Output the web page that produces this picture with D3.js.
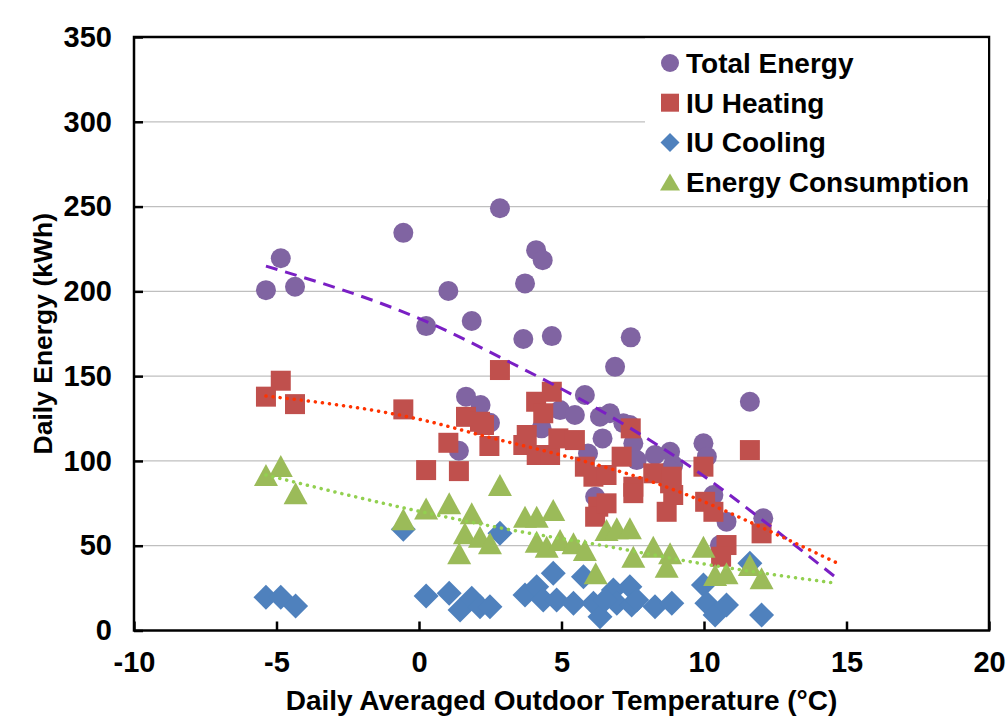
<!DOCTYPE html>
<html>
<head>
<meta charset="utf-8">
<script src="https://cdn.jsdelivr.net/npm/d3@7"></script>
<style>
  html, body { margin: 0; padding: 0; background: #fff; }
  svg text { font-family: "Liberation Sans", Arial, sans-serif; font-weight: bold; fill: #000; }
</style>
</head>
<body>
<svg id="chart" width="1008" height="725"></svg>
<script>
// ---------------- data ----------------
const xTicks = [-10, -5, 0, 5, 10, 15, 20];
const yTicks = [0, 50, 100, 150, 200, 250, 300, 350];
const seriesNames = ["Total Energy", "IU Heating", "IU Cooling", "Energy Consumption"];

const totalEnergy = [
  [-5.37,200.7],[-4.85,219.5],[-4.35,202.7],[-0.55,234.5],[0.25,179.5],[1.03,200.2],[1.85,182.5],
  [2.84,249],[4.11,224.3],[4.34,218.4],[3.72,204.7],[3.66,171.9],[4.66,173.6],[7.43,172.9],[6.88,155.5],
  [1.65,137.9],[2.16,133],[2.49,122.5],[1.40,106],[5.82,138.9],[4.95,130],[5.47,127.1],[4.30,119.2],
  [6.35,126.1],[6.70,128.1],[6.44,113.3],[7.40,121.2],[7.52,110.4],[7.64,100.5],[8.28,103.5],[8.81,105.4],
  [8.92,97.6],[6.18,78.9],[5.93,104.4],[11.61,134.9],[9.98,110.4],[10.1,102.5],[8.81,94.6],[10.33,79.9],
  [10.79,64.2],[12.08,66.2],[10.56,50.4],[7.17,122.2]
];
const iuHeating = [
  [-4.85,147.3],[-5.37,137.9],[-4.35,133.5],[-0.55,130.4],[0.25,94.6],[2.84,153.6],[1.03,110.7],[1.40,94],
  [1.65,126],[2.14,123.1],[2.28,121.2],[2.47,108.8],[4.11,134.9],[4.66,140.8],[4.36,128.1],[3.78,115.3],
  [3.66,109.4],[4.13,103.5],[4.6,103.5],[4.89,113.3],[5.47,112.3],[5.82,96.6],[6.12,90.7],[6.58,91.7],
  [6.29,73],[6.18,67.1],[6.58,75],[7.11,102.5],[7.43,119.2],[7.52,84.8],[7.52,81],[8.22,92.7],[8.69,70],
  [8.81,86.8],[8.87,90.7],[8.92,79.9],[9.98,96.6],[11.61,106.4],[10.04,75.9],[10.33,70],[10.79,50.4],
  [10.6,43.5],[12.02,57.3]
];
const iuCooling = [
  [-5.37,19.6],[-4.85,19.6],[-4.33,14.4],[-0.55,59.7],[0.25,20.3],[1.06,21.9],[1.44,12.1],[1.85,19],
  [2.14,14],[2.49,14],[2.84,57.3],[3.72,20.9],[4.13,25.8],[4.36,18],[4.71,33.7],[4.83,18],[5.42,16],
  [5.77,31.7],[6.12,16],[6.35,8.1],[6.82,23.9],[6.94,16],[6.53,18],[7.40,25.8],[7.46,15],[7.64,18],
  [8.28,14],[8.87,16],[9.98,26.8],[10.1,16],[10.39,9.1],[10.79,15],[11.61,39.6],[12.02,9.1]
];
const energyConsumption = [
  [-5.37,91.7],[-4.85,97],[-4.33,80.9],[-0.55,65.6],[0.25,72],[1.06,75],[1.85,69.1],[2.84,85.8],
  [1.61,57.3],[1.41,45.5],[2.14,55.3],[2.49,51.4],[3.72,67.1],[4.13,67.1],[4.71,71.1],[4.13,52.4],
  [4.48,49.4],[4.95,53.4],[5.42,51.4],[5.82,47.5],[6.2,33.7],[6.58,59.3],[6.94,60.3],[7.40,60.3],
  [7.52,43.5],[8.22,49.4],[8.81,45.5],[8.69,37.6],[9.98,49.4],[10.39,32.7],[10.79,33.7],[11.61,38.6],
  [12.02,30.8]
];
// trendlines
const totalTrend = [[-5.37,214.9],[0.39,181.2],[3.19,158.2],[6.35,129.9],[10.21,88.5],[12.07,64.9],[14.67,30.7]];
const heatingTrend = [[-5.37,138.3],[0.39,123.1],[2.14,115.3],[5.65,100.5],[8.0,88.7],[9.86,76.9],[12.21,59.3],[14.67,39.8]];
const consumptionTrend = [[-5.37,91.7],[-0.21,71.1],[3.30,59.1],[6.35,50.4],[9.86,39.6],[14.67,27.8]];

// ---------------- layout ----------------
const svg = d3.select("#chart");
const L = 134, R = 989, T = 37, B = 630.5;
const x = d3.scaleLinear().domain([-10, 20]).range([L, R]);
const y = d3.scaleLinear().domain([0, 350]).range([B, T]);

const colors = { total: "#8064A2", heat: "#C0504D", cool: "#4F81BD", cons: "#9BBB59" };

// gridlines
svg.append("g").selectAll("line")
  .data(yTicks.filter(d => d > 0 && d < 350))
  .join("line")
  .attr("x1", L).attr("x2", R)
  .attr("y1", d => y(d)).attr("y2", d => y(d))
  .attr("stroke", "#BFBFBF").attr("stroke-width", 1.2);

// axes
const yAxis = d3.axisLeft(y).tickValues(yTicks).tickSize(-9).tickPadding(22).tickFormat(d => String(d));
const gy = svg.append("g").attr("transform", `translate(${L},0)`).call(yAxis);
const xAxis = d3.axisBottom(x).tickValues(xTicks).tickSize(-9).tickPadding(21).tickFormat(d => String(d));
const gx = svg.append("g").attr("transform", `translate(0,${B})`).call(xAxis);
[gx, gy].forEach(g => {
  g.select(".domain").remove();
  g.selectAll(".tick line").attr("stroke", "#000").attr("stroke-width", 2.5);
  g.selectAll(".tick text").style("font-size", "29px").style("font-family", "'Liberation Sans', Arial, sans-serif").style("font-weight", "bold").attr("fill", "#000");
});

// marker shapes
function circlePath(r) { return `M${-r},0A${r},${r} 0 1,0 ${r},0A${r},${r} 0 1,0 ${-r},0Z`; }
function squarePath(s) { const h = s / 2; return `M${-h},${-h}H${h}V${h}H${-h}Z`; }
function diamondPath(h) { return `M0,${-h}L${h},0L0,${h}L${-h},0Z`; }
function trianglePath(w, ht) { return `M0,${-ht/2}L${w/2},${ht/2}L${-w/2},${ht/2}Z`; }

const plot = svg.append("g");
function drawSeries(data, path, color) {
  plot.append("g").selectAll("path").data(data).join("path")
    .attr("d", path)
    .attr("transform", d => `translate(${x(d[0])},${y(d[1])})`)
    .attr("fill", color);
}
drawSeries(totalEnergy, circlePath(10), colors.total);
drawSeries(iuHeating, squarePath(20), colors.heat);
drawSeries(iuCooling, diamondPath(12.5), colors.cool);
drawSeries(energyConsumption, trianglePath(24, 22), colors.cons);

// trendlines
const line = d3.line().x(d => x(d[0])).y(d => y(d[1])).curve(d3.curveMonotoneX);
svg.append("path").datum(totalTrend).attr("d", line)
  .attr("fill", "none").attr("stroke", "#7A1FC4").attr("stroke-width", 3)
  .attr("stroke-dasharray", "12,8");
svg.append("path").datum(heatingTrend).attr("d", line)
  .attr("fill", "none").attr("stroke", "#FF3300").attr("stroke-width", 3.5)
  .attr("stroke-linecap", "round").attr("stroke-dasharray", "0.1,7");
svg.append("path").datum(consumptionTrend).attr("d", line)
  .attr("fill", "none").attr("stroke", "#92D050").attr("stroke-width", 3.5)
  .attr("stroke-linecap", "round").attr("stroke-dasharray", "0.1,7");

// frame
svg.append("rect").attr("x", L).attr("y", T).attr("width", R - L).attr("height", B - T)
  .attr("fill", "none").attr("stroke", "#000").attr("stroke-width", 2.5);

// legend
const lg = svg.append("g");
lg.append("rect").attr("x", 645).attr("y", 38.5).attr("width", 343).attr("height", 161).attr("fill", "#fff");
const legendPaths = [circlePath(9), squarePath(18), diamondPath(9.5), trianglePath(20, 17)];
const legendColors = [colors.total, colors.heat, colors.cool, colors.cons];
const rows = lg.selectAll("g.row").data(seriesNames).join("g").attr("class", "row")
  .attr("transform", (d, i) => `translate(0,${63 + i * 39.7})`);
rows.append("path").attr("d", (d, i) => legendPaths[i]).attr("transform", "translate(670,0)")
  .attr("fill", (d, i) => legendColors[i]);
rows.append("text").attr("x", 686).attr("y", 0).attr("dy", "0.36em")
  .style("font-size", "28px").text(d => d);

// axis titles
svg.append("text").attr("x", (L + R) / 2).attr("y", 700).attr("dy", "0.36em")
  .attr("text-anchor", "middle").style("font-size", "28px")
  .text("Daily Averaged Outdoor Temperature (°C)");
svg.append("text").attr("transform", `translate(42,${(T + B) / 2}) rotate(-90)`)
  .attr("dy", "0.36em").attr("text-anchor", "middle").style("font-size", "26.5px")
  .text("Daily Energy (kWh)");
</script>
</body>
</html>
